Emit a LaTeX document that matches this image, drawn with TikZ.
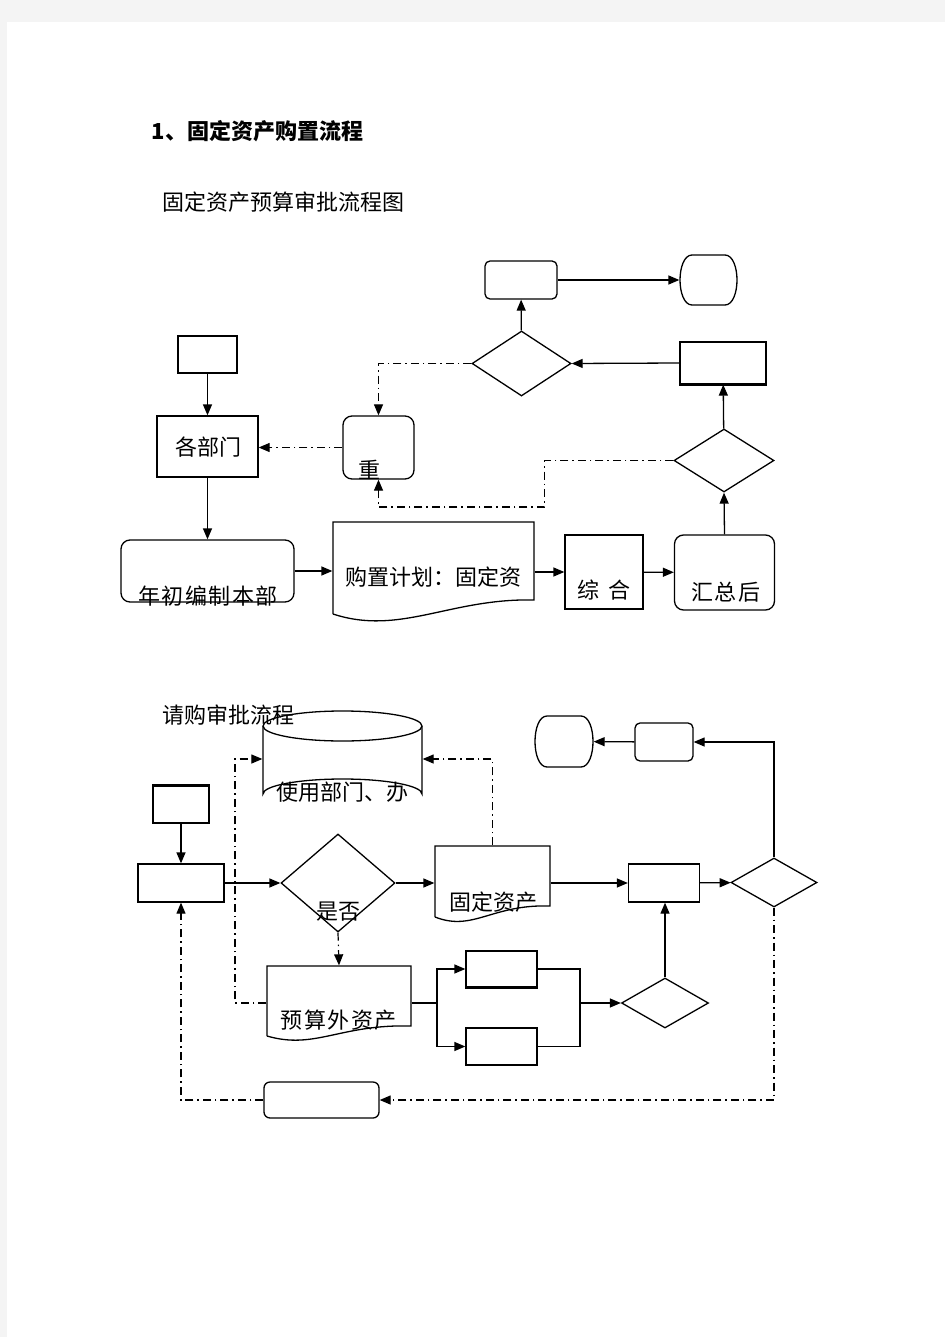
\documentclass[tikz,border=0pt]{standalone}
\usepackage{fontspec}
\setmainfont{Noto Sans CJK SC}
\usetikzlibrary{arrows.meta,shapes.geometric,calc}
\definecolor{pagebg}{HTML}{F4F4F4}
\begin{document}
\begin{tikzpicture}[x=1pt,y=-1pt,line width=1.3pt,
  arr/.style={-{Triangle[length=11pt,width=9pt]}},
  dd/.style={line width=1.2pt,dash pattern=on 8pt off 4pt on 1.5pt off 4pt,-{Triangle[length=11pt,width=9pt]}},
  rbox/.style={draw,rectangle,inner sep=0pt,line width=1.3pt},
  rrbox/.style={rbox,rounded corners=7pt},
  dia/.style={draw,diamond,inner sep=0pt,line width=1.3pt},
  ghost/.style={rectangle,inner sep=0pt},
  txt/.style={inner sep=0pt,font=\fontsize{22pt}{22pt}\selectfont},
  wide/.style={txt,font=\fontsize{22pt}{22pt}\selectfont\addfontfeature{LetterSpace=7}},
  thick edge/.style={line width=2.6pt}]
\useasboundingbox (0,0) rectangle (945,1337);
\fill[pagebg] (0,0) rectangle (945,1337);
\fill[white] (7,22) rectangle (945,1337);

% ---------- titles ----------
\node[txt,anchor=west,font=\fontsize{22pt}{22pt}\selectfont\bfseries] (title) at (151,131) {1、固定资产购置流程};
\node[txt,anchor=west] (sub1) at (162,202) {固定资产预算审批流程图};

% ---------- diagram 1 ----------
\node[rbox,minimum width=59pt,minimum height=37pt] (A) at (207.5,354.5) {};
\node[rbox,minimum width=101pt,minimum height=61pt] (dept) at (207.5,446.5) {};
\node[rrbox,rounded corners=9pt,minimum width=71pt,minimum height=63pt] (chong) at (378.5,447.5) {};
\node[rrbox,rounded corners=9pt,minimum width=173pt,minimum height=62pt] (nian) at (207.5,571) {};
\node[ghost,minimum width=201pt,minimum height=98pt] (doc1) at (433.5,571) {};
\draw (333,614) -- (333,522) -- (534,522) -- (534,600)
      .. controls (450,598) and (400,636) .. (333,614);
\node[rbox,minimum width=78pt,minimum height=74pt] (zong) at (604,572) {};
\node[rrbox,rounded corners=9pt,minimum width=100pt,minimum height=75pt] (hui) at (724.5,572.5) {};
\node[dia,minimum width=100pt,minimum height=63pt] (dia2) at (724,460.5) {};
\node[rbox,minimum width=86pt,minimum height=42pt] (C) at (723,363) {};
\draw[thick edge] (C.south west) -- (C.south east);
\node[dia,minimum width=99pt,minimum height=65pt] (dia1) at (521.5,363.5) {};
\node[rrbox,rounded corners=5pt,minimum width=72pt,minimum height=38pt] (B) at (521,280) {};
\node[ghost,minimum width=57pt,minimum height=50pt] (term1) at (708.5,280) {};
\draw (692,255) -- (725,255) .. controls (733,255) and (737,268) .. (737,280)
      .. controls (737,292) and (733,305) .. (725,305) -- (692,305)
      .. controls (684,305) and (680,292) .. (680,280)
      .. controls (680,268) and (684,255) .. (692,255) -- cycle;
\coordinate (c1) at (544.5,507);

\draw[arr] (A) -- (dept);
\draw[arr] (dept) -- (nian);
\draw[arr] (nian.east) -- (nian.east -| doc1.west);
\draw[arr] (zong.west -| doc1.east) -- (zong.west);
\draw[arr] (zong) -- (hui);
\draw[arr] (hui.north) -- (dia2.south);
\draw[arr] (dia2) -- (C);
\draw[arr] (C.west) -- (dia1.east);
\draw[arr] (dia1) -- (B);
\draw[arr] (B) -- (term1);
\draw[dd] (dia1.west) -| (chong.north);
\draw[dd] (chong.west) -- (chong.west -| dept.east);
\draw[dd] (dia2.west) -| (c1) -| (chong.south);

\node[txt] (tdept) at (208,447) {各部门};
\node[txt] (tchong) at (369,470) {重};
\node[wide] (tnian) at (208,596) {年初编制本部};
\node[txt] (tdoc1) at (433,577) {购置计划：固定资};
\node[txt] (tzong) at (604,590) {综\hspace{0.45em}合};
\node[wide] (thui) at (726,592) {汇总后};

% ---------- diagram 2 ----------
\node[ghost,minimum width=159pt,minimum height=2pt] (cyl) at (342.5,759) {};
\draw (263,726) -- (263,794) arc[start angle=180,end angle=0,x radius=79.5pt,y radius=15pt] -- (422,726);
\draw (342.5,726) ellipse [x radius=79.5pt,y radius=15pt];
\node[txt,anchor=west] (sub2) at (162,715) {请购审批流程};
\node[txt] (tcyl) at (342.5,792) {使用部门、办};

\node[rbox,minimum width=56pt,minimum height=37pt] (D) at (181,804.5) {};
\draw[thick edge] (D.north west) -- (D.north east);
\node[rbox,minimum width=86pt,minimum height=38pt] (E) at (181,883) {};
\node[dia,minimum width=114pt,minimum height=98pt] (dia3) at (338,883) {};
\node[ghost,minimum width=115pt,minimum height=74pt] (doc2) at (492.5,883) {};
\draw (435,917) -- (435,846) -- (550,846) -- (550,906)
      .. controls (492,904) and (473,932) .. (435,917);
\node[rbox,minimum width=71pt,minimum height=38pt] (F) at (664,883) {};
\node[dia,minimum width=86pt,minimum height=49pt] (dia4) at (774,882.5) {};
\node[rrbox,rounded corners=5pt,minimum width=58pt,minimum height=38pt] (G) at (664,742) {};
\node[ghost,minimum width=58pt,minimum height=51pt] (term2) at (564,741.5) {};
\draw (547,716) -- (581,716) .. controls (589,716) and (593,729) .. (593,741.5)
      .. controls (593,754) and (589,767) .. (581,767) -- (547,767)
      .. controls (539,767) and (535,754) .. (535,741.5)
      .. controls (535,729) and (539,716) .. (547,716) -- cycle;
\node[ghost,minimum width=144pt,minimum height=74pt] (doc3) at (339,1003) {};
\draw (267,1036) -- (267,966) -- (411,966) -- (411,1026)
      .. controls (340,1024) and (315,1050) .. (267,1036);
\node[rbox,minimum width=71pt,minimum height=36pt] (I) at (501.5,969) {};
\draw[thick edge] (I.south west) -- (I.south east);
\node[rbox,minimum width=71pt,minimum height=37pt] (J) at (501.5,1046.5) {};
\node[dia,minimum width=87pt,minimum height=50pt] (dia5) at (665,1003) {};
\node[rrbox,rounded corners=6pt,minimum width=115pt,minimum height=36pt] (H) at (321.5,1100) {};
\coordinate (k1) at (235,759);
\coordinate (k2) at (437,1003);
\coordinate (k3) at (580,1003);

\draw[arr] (D) -- (E);
\draw[arr] (E) -- (dia3);
\draw[arr] (dia3.east) -- (doc2.west);
\draw[arr] (doc2.east) -- (F.west);
\draw[arr] (F) -- (dia4);
\draw[arr] (dia4.north) |- (G.east);
\draw[arr] (G) -- (term2);
\draw[dd] (dia3.south) -- (doc3.north);
\draw[dd] (doc3.west) -| (k1) -- (cyl.west);
\draw[dd] (doc2.north) |- (cyl.east);
\draw (doc3.east) -- (k2);
\draw[arr] (k2) |- (I.west);
\draw[arr] (k2) |- (J.west);
\draw (I.east) -| (k3);
\draw (J.east) -| (k3);
\draw[arr] (k3) -- (dia5.west);
\draw[arr] (dia5.north) -- (dia5.north |- F.south);
\draw[dd] (dia4.south) |- (H.east);
\draw[dd] (H.west) -| (E.south);

\node[txt] (tshi) at (338,912) {是否};
\node[txt] (tdoc2) at (493,902) {固定资产};
\node[wide] (tdoc3) at (338.6,1020) {预算外资产};
\end{tikzpicture}
\end{document}
